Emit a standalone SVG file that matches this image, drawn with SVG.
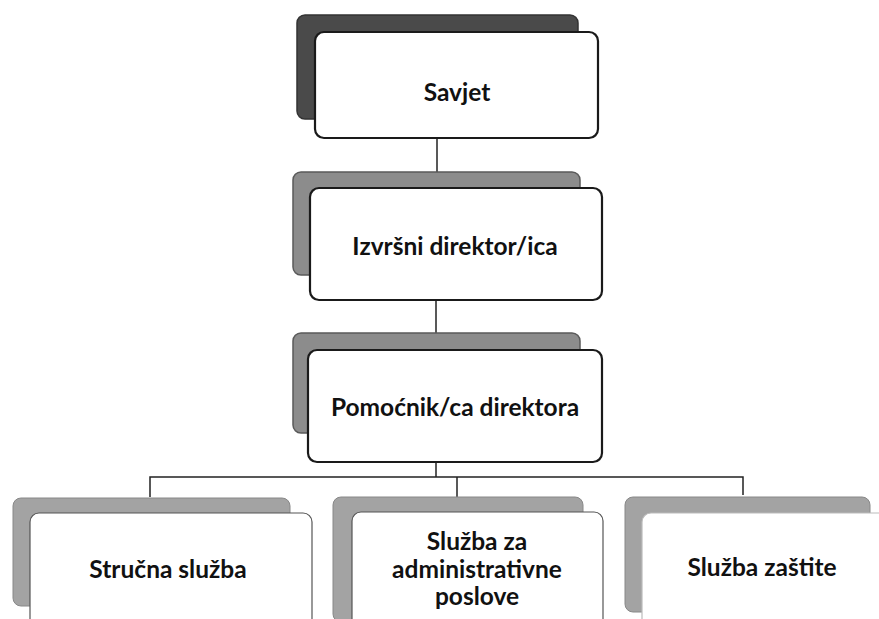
<svg xmlns="http://www.w3.org/2000/svg" width="879" height="619" viewBox="0 0 879 619">
<style>
.bg{fill:#ffffff}
.sh{fill:#8c8c8c;stroke:#5a5a5a;stroke-width:1.5}
.shd{fill:#4a4a4a;stroke:#333;stroke-width:1.5}
.shl{fill:#a3a3a3;stroke:#888;stroke-width:1}
.fr{fill:#ffffff;stroke:#1a1a1a;stroke-width:2.2}
.frl{fill:#ffffff;stroke:#555;stroke-width:1.2}
.t{font-family:Lato,"Open Sans","Liberation Sans",sans-serif;font-weight:bold;font-size:24.5px;fill:#111;text-anchor:middle}
.c{fill:none;stroke:#222;stroke-width:1.5}
</style>
<rect class="bg" width="879" height="619"/>
<g id="connectors">
<line class="c" x1="437" y1="139" x2="437" y2="188"/>
<line class="c" x1="436" y1="300" x2="436" y2="350"/>
<line class="c" x1="436" y1="462" x2="436" y2="477"/>
<polyline class="c" points="150,497 150,477 743,477 743,495"/>
<line class="c" x1="457" y1="477" x2="457" y2="497"/>
</g>
<g id="savjet">
<rect class="shd" x="297" y="15" width="281" height="104" rx="8"/>
<rect class="fr" x="315" y="32" width="283" height="106" rx="9"/>
<text class="t" x="457" y="101">Savjet</text>
</g>
<g id="izvrsni">
<rect class="sh" x="293" y="172" width="287" height="103" rx="8"/>
<rect class="fr" x="310" y="188" width="292" height="112" rx="9"/>
<text class="t" x="455" y="255">Izvršni direktor/ica</text>
</g>
<g id="pomocnik">
<rect class="sh" x="293" y="333" width="287" height="100" rx="8"/>
<rect class="fr" x="308" y="350" width="294" height="112" rx="9"/>
<text class="t" x="455" y="416">Pomoćnik/ca direktora</text>
</g>
<g id="strucna">
<rect class="shl" x="13" y="498" width="277" height="108" rx="8"/>
<rect class="frl" x="30" y="513" width="282" height="120" rx="9"/>
<text class="t" x="168" y="578">Stručna služba</text>
</g>
<g id="administrativne">
<rect class="shl" x="333" y="497" width="250" height="125" rx="8"/>
<rect class="frl" x="352" y="512" width="251" height="120" rx="9"/>
<text class="t" x="477" y="550">Služba za</text>
<text class="t" x="477" y="578">administrativne</text>
<text class="t" x="477" y="605">poslove</text>
</g>
<g id="zastite">
<rect class="shl" x="625" y="497" width="245" height="115" rx="8"/>
<rect class="frl" x="642" y="513" width="250" height="120" rx="9" style="stroke:#bbb"/>
<text class="t" x="762" y="576">Služba zaštite</text>
</g>
</svg>
